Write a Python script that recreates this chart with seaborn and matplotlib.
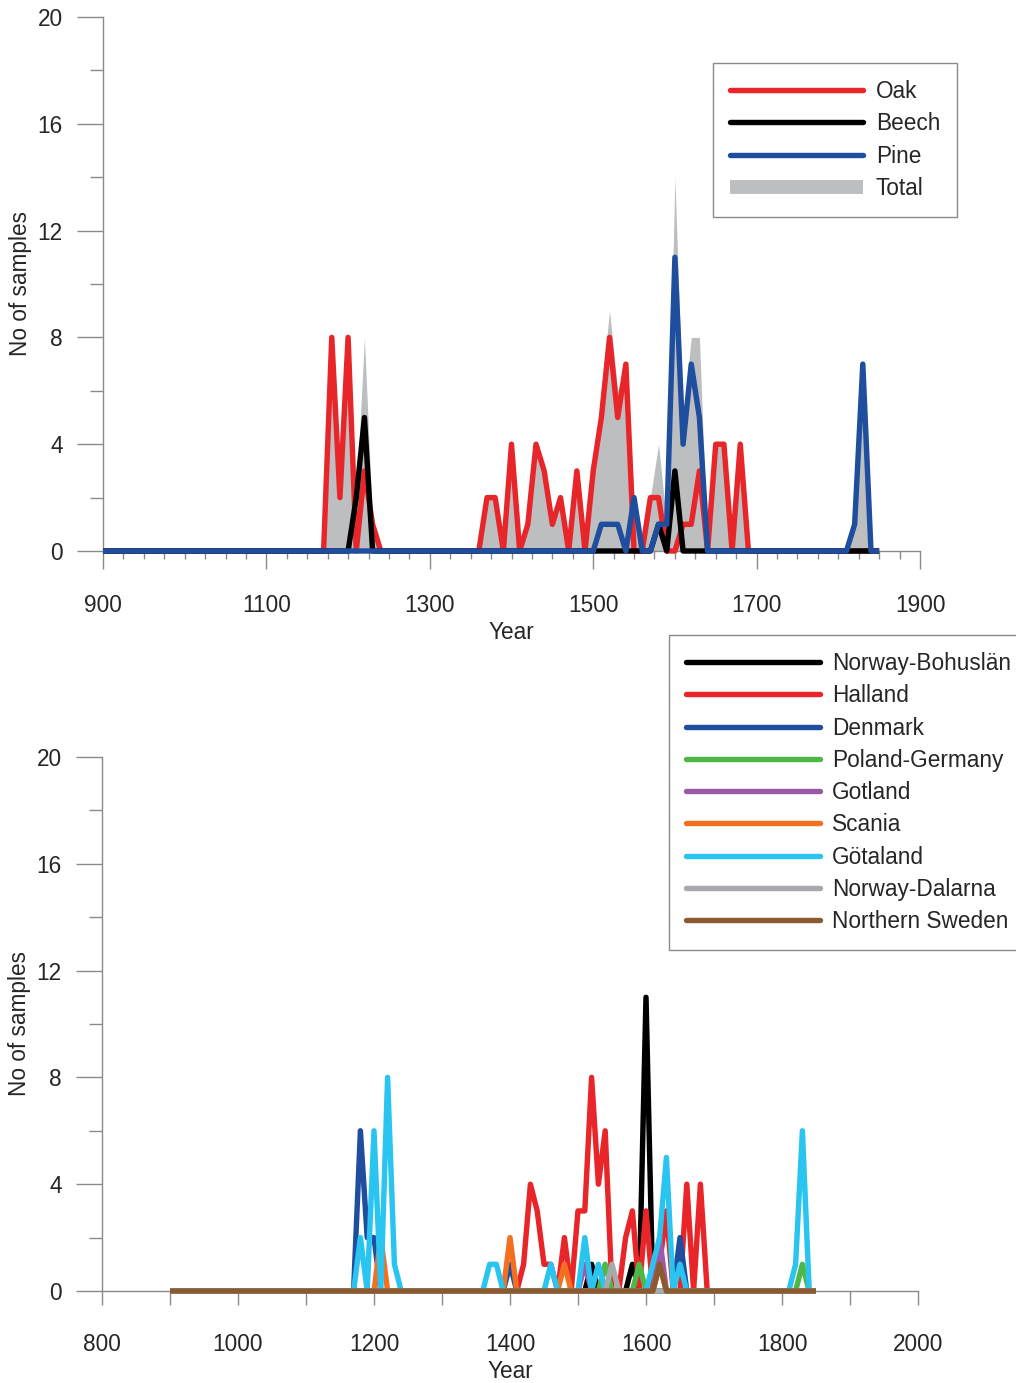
import numpy as np
import pandas as pd
import matplotlib
matplotlib.use("Agg")
import matplotlib.pyplot as plt
import matplotlib.ticker as mticker
from matplotlib.lines import Line2D
import seaborn as sns

sns.set_theme(style="white")
plt.rcParams["font.family"] = ["Liberation Sans", "DejaVu Sans"]

# decades covered by both panels
YEARS = list(range(900, 1860, 10))

# top panel: samples per decade by wood type (decades not listed = 0)
OAK = {1180: 8, 1190: 2, 1200: 8, 1220: 3, 1230: 1, 1370: 2, 1380: 2, 1400: 4,
       1420: 1, 1430: 4, 1440: 3, 1450: 1, 1460: 2, 1480: 3, 1500: 3, 1510: 5,
       1520: 8, 1530: 5, 1540: 7, 1570: 2, 1580: 2, 1610: 1, 1620: 1, 1630: 3,
       1650: 4, 1660: 4, 1680: 4}
BEECH = {1210: 2, 1220: 5, 1580: 1, 1600: 3}
PINE = {1510: 1, 1520: 1, 1530: 1, 1550: 2, 1580: 1, 1590: 1, 1600: 11,
        1610: 4, 1620: 7, 1630: 5, 1820: 1, 1830: 7}

# bottom panel: samples per decade by region
BOHUSLAN = {1520: 1, 1580: 1, 1600: 11}
HALLAND = {1420: 1, 1430: 4, 1440: 3, 1450: 1, 1460: 1, 1480: 2, 1500: 3,
           1510: 3, 1520: 8, 1530: 4, 1540: 6, 1570: 2, 1580: 3, 1600: 3,
           1620: 1, 1630: 3, 1660: 4, 1680: 4}
DENMARK = {1180: 6, 1190: 2, 1200: 2, 1400: 1, 1650: 2}
POLAND = {1540: 1, 1590: 1, 1830: 1}
GOTLAND = {1510: 1, 1620: 2}
SCANIA = {1210: 2, 1400: 2, 1480: 1, 1620: 1}
GOTALAND = {1180: 2, 1200: 6, 1220: 8, 1230: 1, 1370: 1, 1380: 1, 1460: 1,
            1510: 2, 1530: 1, 1610: 1, 1620: 2, 1630: 5, 1650: 1, 1820: 1,
            1830: 6}
DALARNA = {1550: 1}
NORTHERN = {1620: 1}

TOP_SERIES = [("Oak", OAK, "#E8262A"), ("Beech", BEECH, "#000000"),
              ("Pine", PINE, "#1F4E9F")]
BOTTOM_SERIES = [("Norway-Bohuslän", BOHUSLAN, "#000000"),
                 ("Halland", HALLAND, "#E8262A"),
                 ("Denmark", DENMARK, "#1F4E9F"),
                 ("Poland-Germany", POLAND, "#4DB848"),
                 ("Gotland", GOTLAND, "#9B59A8"),
                 ("Scania", SCANIA, "#F37021"),
                 ("Götaland", GOTALAND, "#29C4F0"),
                 ("Norway-Dalarna", DALARNA, "#A7A9AC"),
                 ("Northern Sweden", NORTHERN, "#8C5A30")]
TOP_XLABELS = [900, 1100, 1300, 1500, 1700, 1900]
BOTTOM_XLABELS = [800, 1000, 1200, 1400, 1600, 1800, 2000]
TOTAL_COLOR = "#BCBEC0"
AXIS_COLOR = "#8A8A8A"
FS = 16.3
LW = 3.9


def expand(d):
    return [d.get(y, 0) for y in YEARS]


def style_axes(ax, xlim, xlabels, xminor, xlen, xpad):
    ax.set_xlim(*xlim)
    ax.set_ylim(0, 20)
    for s in ["top", "right"]:
        ax.spines[s].set_visible(False)
    for s in ["left", "bottom"]:
        ax.spines[s].set_color(AXIS_COLOR)
        ax.spines[s].set_linewidth(1.0)
    ax.xaxis.set_major_locator(mticker.FixedLocator(xlabels))
    ax.xaxis.set_minor_locator(mticker.MultipleLocator(xminor))
    ax.yaxis.set_major_locator(mticker.MultipleLocator(4))
    ax.yaxis.set_minor_locator(mticker.MultipleLocator(2))
    ax.tick_params(axis="y", which="major", direction="out", length=19,
                   width=1, color=AXIS_COLOR, pad=10, labelsize=FS, left=True)
    ax.tick_params(axis="y", which="minor", direction="out", length=9.5,
                   width=1, color=AXIS_COLOR, left=True)
    ax.tick_params(axis="x", which="major", direction="out", length=xlen[0],
                   width=1, color=AXIS_COLOR, pad=xpad, labelsize=FS,
                   bottom=True)
    ax.tick_params(axis="x", which="minor", direction="out", length=xlen[1],
                   width=1, color=AXIS_COLOR, bottom=True)
    ax.set_ylabel("No of samples", fontsize=FS, labelpad=4)
    ax.set_xlabel("Year", fontsize=FS, labelpad=3)
    ax.grid(False)


fig = plt.figure(figsize=(10.16, 13.83), dpi=100)
ax1 = fig.add_axes([103 / 1016, 1 - 551 / 1383, 817 / 1016, 534 / 1383])
ax2 = fig.add_axes([102 / 1016, 1 - 1291 / 1383, 816 / 1016, 534 / 1383])

# ---- top panel
top = pd.DataFrame({"Year": YEARS})
for name, d, _ in TOP_SERIES:
    top[name] = expand(d)
top["Total"] = top["Oak"] + top["Beech"] + top["Pine"]

ax1.fill_between(top["Year"], top["Total"], color=TOTAL_COLOR, lw=0, zorder=1)
for name, _, color in TOP_SERIES:
    sns.lineplot(data=top, x="Year", y=name, color=color, lw=LW, ax=ax1,
                 legend=False, clip_on=False, zorder=3,
                 solid_joinstyle="round", solid_capstyle="butt")
style_axes(ax1, (900, 1900), TOP_XLABELS, 25, (13, 6), 18)

leg_kw = dict(borderaxespad=0, fontsize=FS, handlelength=5.9,
              handletextpad=0.55, labelspacing=0.41, borderpad=0.75,
              fancybox=False, framealpha=1, edgecolor=AXIS_COLOR)

h_top = [Line2D([], [], color=c, lw=LW) for _, _, c in TOP_SERIES]
h_top.append(Line2D([], [], color=TOTAL_COLOR, lw=10, solid_capstyle="butt"))
fig.legend(h_top, ["Oak", "Beech", "Pine", "Total"], loc="upper right",
           bbox_to_anchor=(957 / 1016, 1 - 63 / 1383), **leg_kw)

# ---- bottom panel
bot = pd.DataFrame({"Year": YEARS})
for name, d, _ in BOTTOM_SERIES:
    bot[name] = expand(d)
for name, _, color in BOTTOM_SERIES:
    sns.lineplot(data=bot, x="Year", y=name, color=color, lw=LW, ax=ax2,
                 legend=False, clip_on=False, zorder=3,
                 solid_joinstyle="round", solid_capstyle="butt")
style_axes(ax2, (800, 2000), BOTTOM_XLABELS, 100, (10, 10), 20)

h_bot = [Line2D([], [], color=c, lw=LW) for _, _, c in BOTTOM_SERIES]
fig.legend(h_bot, [n for n, _, _ in BOTTOM_SERIES], loc="upper left",
           bbox_to_anchor=(669 / 1016, 1 - 635 / 1383), **leg_kw)

fig.savefig("out.png", dpi=100)
